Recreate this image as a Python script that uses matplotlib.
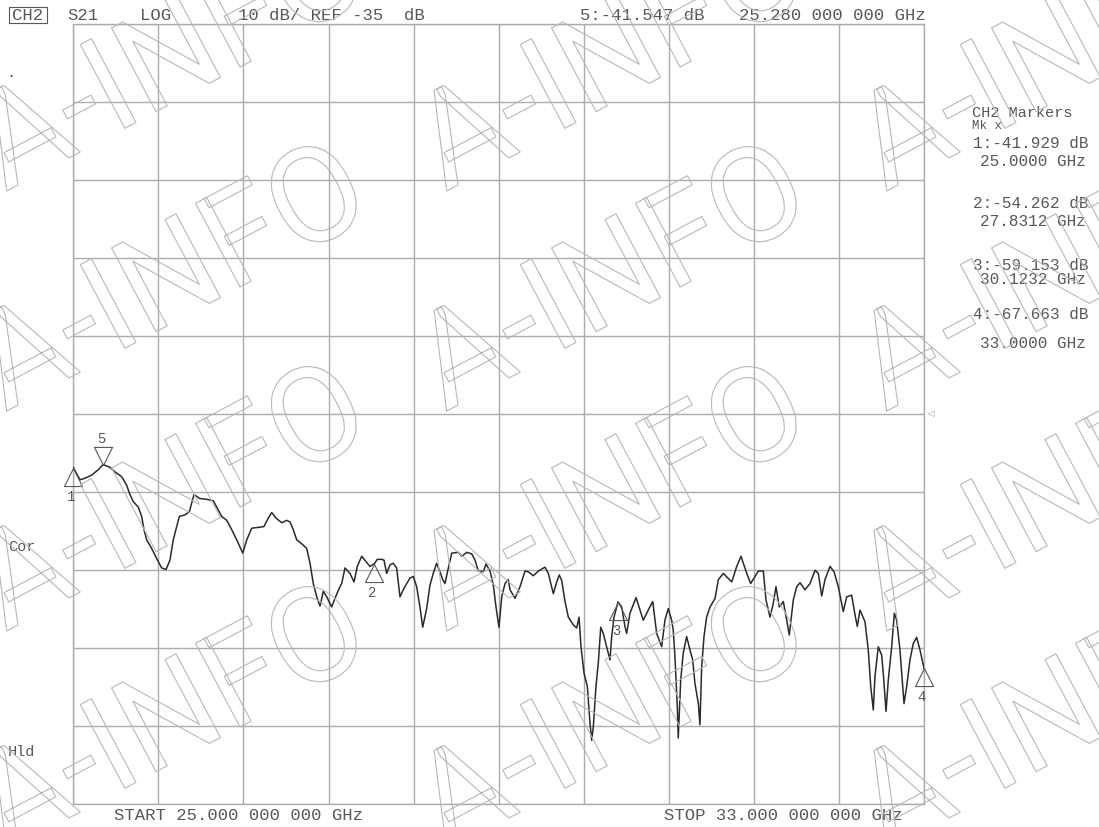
import numpy as np
import matplotlib
matplotlib.use('Agg')
import matplotlib.pyplot as plt
import matplotlib.patheffects as pe
from matplotlib.path import Path
from matplotlib.patches import Rectangle


# S21 sweep (GHz, dB)
freq_ghz = [
    25.000, 25.063, 25.110, 25.173, 25.235, 25.280, 25.345, 25.392, 25.455, 25.502,
    25.533, 25.564, 25.611, 25.643, 25.665, 25.690, 25.737, 25.784, 25.831, 25.872,
    25.909, 25.940, 25.972, 25.997, 26.050, 26.091, 26.135, 26.191, 26.254, 26.317,
    26.349, 26.396, 26.443, 26.490, 26.537, 26.593, 26.631, 26.678, 26.740, 26.793,
    26.834, 26.866, 26.906, 26.960, 27.007, 27.038, 27.069, 27.101, 27.148, 27.195,
    27.226, 27.257, 27.289, 27.320, 27.351, 27.383, 27.430, 27.461, 27.501, 27.524,
    27.555, 27.602, 27.640, 27.671, 27.712, 27.753, 27.790, 27.831, 27.859, 27.900,
    27.922, 27.947, 27.978, 28.009, 28.041, 28.072, 28.110, 28.166, 28.197, 28.229,
    28.260, 28.286, 28.323, 28.354, 28.385, 28.417, 28.442, 28.474, 28.495, 28.527,
    28.559, 28.621, 28.653, 28.700, 28.747, 28.778, 28.809, 28.856, 28.881, 28.919,
    28.950, 28.975, 29.003, 29.029, 29.060, 29.091, 29.107, 29.154, 29.201, 29.248,
    29.279, 29.326, 29.373, 29.436, 29.467, 29.514, 29.546, 29.570, 29.593, 29.624,
    29.655, 29.702, 29.734, 29.756, 29.774, 29.803, 29.834, 29.859, 29.875, 29.890,
    29.915, 29.937, 29.960, 29.984, 30.016, 30.047, 30.063, 30.085, 30.123, 30.157,
    30.188, 30.204, 30.235, 30.292, 30.329, 30.360, 30.407, 30.449, 30.486, 30.533,
    30.564, 30.595, 30.627, 30.642, 30.658, 30.680, 30.689, 30.712, 30.736, 30.768,
    30.799, 30.825, 30.846, 30.878, 30.893, 30.909, 30.931, 30.956, 30.988, 31.035,
    31.066, 31.113, 31.192, 31.239, 31.279, 31.333, 31.370, 31.411, 31.442, 31.489,
    31.514, 31.552, 31.583, 31.608, 31.639, 31.677, 31.709, 31.733, 31.771, 31.803,
    31.834, 31.881, 31.928, 31.975, 32.006, 32.038, 32.069, 32.116, 32.154, 32.194,
    32.241, 32.273, 32.320, 32.351, 32.373, 32.398, 32.445, 32.476, 32.499, 32.523,
    32.539, 32.570, 32.602, 32.617, 32.643, 32.664, 32.696, 32.721, 32.743, 32.774,
    32.812, 32.837, 32.868, 32.899, 32.931, 32.962, 33.000,
]
s21_db = [
    -41.93, -43.5, -43.3, -42.9, -42.2, -41.55, -41.9, -42.5, -43.1, -44.2,
    -45.4, -46.3, -47.0, -48.2, -49.9, -51.2, -52.3, -53.6, -54.8, -55.0,
    -53.8, -51.2, -49.5, -48.2, -48.0, -47.6, -45.4, -45.9, -46.0, -46.2,
    -47.0, -48.2, -48.7, -49.9, -51.2, -52.9, -51.2, -49.7, -49.6, -49.5,
    -48.4, -47.7, -48.4, -49.0, -48.7, -48.9, -49.9, -51.2, -51.7, -52.3,
    -54.2, -56.8, -58.5, -59.7, -57.8, -58.5, -59.8, -58.7, -57.4, -56.8,
    -54.8, -55.5, -56.6, -54.6, -53.3, -54.0, -54.6, -54.26, -53.7, -53.7,
    -53.8, -55.5, -54.4, -54.2, -54.8, -58.5, -57.4, -56.1, -55.9, -57.2,
    -59.8, -62.4, -60.0, -57.0, -55.5, -54.2, -55.1, -56.3, -56.8, -54.8,
    -52.9, -52.8, -53.3, -52.8, -53.0, -53.8, -55.2, -55.3, -54.3, -55.2,
    -57.0, -59.8, -62.4, -58.5, -56.8, -56.3, -57.6, -58.7, -57.2, -55.2,
    -55.3, -55.8, -55.2, -54.7, -55.5, -58.1, -56.6, -55.7, -56.4, -59.1,
    -61.1, -62.1, -62.5, -61.1, -64.9, -68.3, -70.0, -74.7, -76.9, -75.2,
    -70.0, -67.0, -62.4, -63.2, -64.9, -66.6, -63.6, -61.1, -59.15, -59.8,
    -62.3, -63.2, -60.6, -58.6, -60.2, -61.5, -60.2, -59.1, -63.2, -64.9,
    -61.5, -60.0, -61.5, -62.8, -66.2, -72.6, -76.6, -69.2, -65.7, -63.6,
    -65.3, -66.6, -69.6, -72.2, -74.9, -67.5, -63.6, -61.1, -59.8, -58.7,
    -56.3, -55.5, -56.6, -54.6, -53.3, -55.5, -56.8, -55.9, -55.2, -55.2,
    -58.9, -61.1, -59.3, -57.2, -59.8, -59.1, -61.5, -63.4, -58.9, -57.2,
    -56.7, -57.6, -56.8, -55.1, -55.5, -58.4, -56.3, -54.6, -55.3, -57.2,
    -60.4, -58.5, -58.3, -60.8, -62.3, -60.2, -61.7, -65.3, -70.0, -73.0,
    -68.7, -64.9, -66.0, -68.3, -73.2, -69.2, -64.9, -60.6, -61.5, -65.3,
    -72.2, -70.0, -66.6, -64.5, -63.7, -65.3, -67.66,
]

# markers (5 is the active one)
mkr_num = ['1', '2', '3', '4', '5']
mkr_ghz = [25.0, 27.8312, 30.1232, 33.0, 25.28]
mkr_db = [-41.929, -54.262, -59.153, -67.663, -41.547]
mkr_db_txt = ['-41.929', '-54.262', '-59.153', '-67.663', '-41.547']
mkr_ghz_txt = ['25.0000', '27.8312', '30.1232', '33.0000']

start_ghz, stop_ghz = 25.0, 33.0
ref_db, scale_db = -35.0, 10.0
ndiv = 10

W, H = 1099, 827
GRID = '#acacac'
INK = '#585858'
MONO = 'Liberation Mono'


def fx(x):
    return x / W


def fy(y):
    return 1 - y / H


def put(x, y, s, size=12.4, **kw):
    fig.text(fx(x), fy(y), s, ha='left', va='center', family=MONO,
             fontsize=size, color=INK, **kw)


fig = plt.figure(figsize=(W / 100, H / 100), dpi=100)
fig.patch.set_facecolor('white')

# graticule: 10 x 10 divisions
ax = fig.add_axes([fx(73.3), fy(803.5), (924 - 73.3) / W, (803.5 - 23.5) / H])
ax.set_xlim(start_ghz, stop_ghz)
ax.set_ylim(ref_db - ndiv / 2 * scale_db, ref_db + ndiv / 2 * scale_db)
ax.set_xticks(np.linspace(start_ghz, stop_ghz, ndiv + 1))
ax.set_yticks(np.linspace(ref_db - ndiv / 2 * scale_db, ref_db + ndiv / 2 * scale_db, ndiv + 1))
ax.tick_params(length=0, labelbottom=False, labelleft=False)
ax.grid(True, color=GRID, lw=1.0)
for sp in ax.spines.values():
    sp.set_color(GRID)
    sp.set_linewidth(1.0)

ax.plot(freq_ghz, s21_db, color='#2a2a2a', lw=1.1, zorder=3)

# marker triangles, tip sits on the trace
tri_up = Path([(0, 0), (-0.5, -1), (0.5, -1), (0, 0)],
              [Path.MOVETO, Path.LINETO, Path.LINETO, Path.CLOSEPOLY])
tri_dn = Path([(0, 0), (-0.5, 1), (0.5, 1), (0, 0)],
              [Path.MOVETO, Path.LINETO, Path.LINETO, Path.CLOSEPOLY])
for n, f, d in zip(mkr_num, mkr_ghz, mkr_db):
    active = n == '5'
    ax.plot(f, d, marker=tri_dn if active else tri_up, ms=26, mfc='none',
            mec=INK, mew=0.8, clip_on=False, zorder=4)
    ax.annotate(n, (f, d), xytext=(-1.5, 18.5 if active else -21),
                textcoords='offset points', ha='center', va='center',
                family=MONO, fontsize=10, color=INK, annotation_clip=False)

# header line
put(12, 15, 'CH2')
fig.add_artist(Rectangle((fx(9), fy(23)), 38 / W, 16 / H, transform=fig.transFigure,
                         fill=False, ec=INK, lw=0.8))
put(67, 15, 'S21')
put(140, 15, 'LOG')
put(238, 15, '10 dB/ REF -35  dB')
put(580, 15, '5:' + mkr_db_txt[4] + ' dB')
put(739, 15, '25.280 000 000 GHz')

# left annotations
put(6, 73, '.', size=11)
put(8, 547, 'Cor', size=11)
put(8, 752, 'Hld', size=11)

# marker table on the right
put(972, 113, 'CH2 Markers', size=11)
put(972, 126, 'Mk x', size=9)
tbl_y = [(143, 161), (203, 221), (265, 279), (315, 343)]
for i, (y1, y2) in enumerate(tbl_y):
    put(973, y1, mkr_num[i] + ':' + mkr_db_txt[i] + ' dB', size=11.5)
    put(980, y2, mkr_ghz_txt[i] + ' GHz', size=11.5)

# reference position arrow
fig.text(fx(927), fy(414), '\u25c1', ha='left', va='center', fontsize=6,
         color='#888888', family='DejaVu Sans')

# sweep limits
put(114, 816, 'START 25.000 000 000 GHz')
put(664, 816, 'STOP 33.000 000 000 GHz')

# hollow "A-INFO" watermark tiled over the page
for wy in (192, 412, 632, 852):
    for wx in (5, 445, 885):
        fig.text(fx(wx), fy(wy), 'A-INFO', rotation=28, rotation_mode='anchor',
                 ha='left', va='baseline', fontsize=96, family='Roboto',
                 color='none', zorder=6,
                 path_effects=[pe.Stroke(linewidth=0.8, foreground='#b8b8b8')])

fig.savefig('out.png', dpi=100)
